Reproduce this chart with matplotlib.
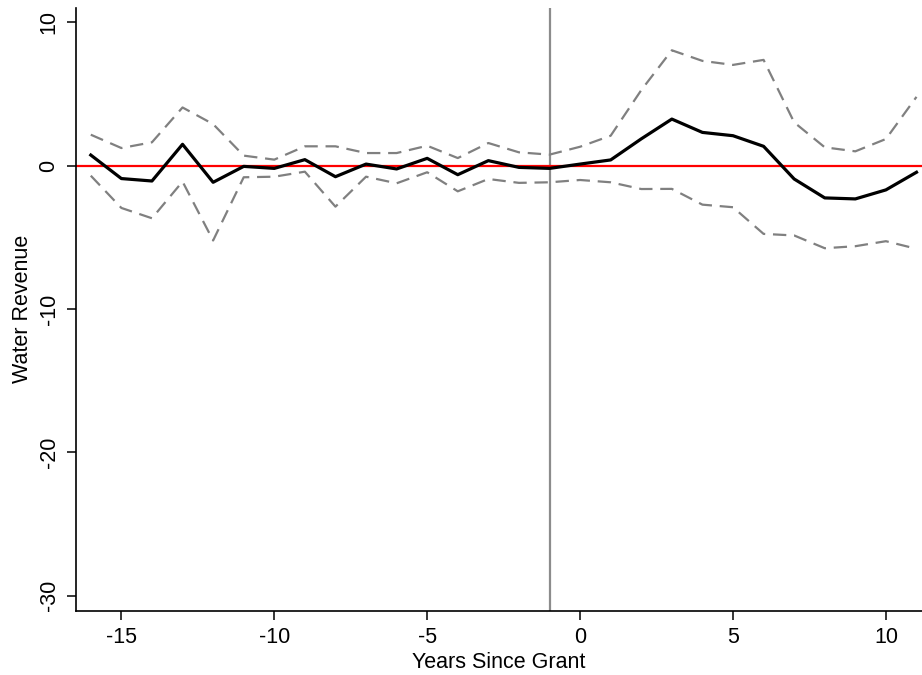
import numpy as np
from matplotlib import pyplot as plt

plt.rcParams['font.family'] = ['Liberation Sans', 'DejaVu Sans']
plt.rcParams['axes.unicode_minus'] = False

# event time relative to grant
years = list(range(-16, 12))

# point estimates
coef = [0.74, -0.90, -1.07, 1.49, -1.16, -0.05, -0.19, 0.42, -0.77, 0.11,
        -0.23, 0.51, -0.63, 0.35, -0.12, -0.19, 0.11, 0.40, 1.87, 3.25,
        2.32, 2.09, 1.35, -0.93, -2.25, -2.32, -1.69, -0.46]

# upper and lower confidence bounds
upper = [2.16, 1.23, 1.63, 4.06, 2.90, 0.70, 0.42, 1.35, 1.35, 0.88,
         0.88, 1.39, 0.53, 1.58, 0.93, 0.77, 1.32, 2.09, 5.27, 8.05,
         7.31, 7.03, 7.38, 3.02, 1.28, 1.00, 1.86, 4.80]
lower = [-0.70, -2.95, -3.67, -1.11, -5.22, -0.81, -0.77, -0.42, -2.86, -0.77,
         -1.23, -0.46, -1.79, -0.93, -1.20, -1.16, -1.00, -1.16, -1.63, -1.62,
         -2.72, -2.90, -4.76, -4.87, -5.76, -5.62, -5.27, -5.80]

xticks = [-15, -10, -5, 0, 5, 10]
yticks = [-30, -20, -10, 0, 10]

fig = plt.figure(figsize=(9.22, 6.75), dpi=100)
ax = fig.add_axes([75.5/922, 64.3/675, 1 - 75.5/922, 602.7/675])

ax.axvline(-1, color='#8c8c8c', lw=1.6, zorder=1)
ax.axhline(0, color='#ff0000', lw=1.6, zorder=2)

ax.plot(years, upper, color='#808080', lw=1.6, ls=(0, (6, 3.5)), zorder=3)
ax.plot(years, lower, color='#808080', lw=1.6, ls=(0, (6, 3.5)), zorder=3)
ax.plot(years, coef, color='k', lw=2.3, zorder=4)

ax.set_xlim(-16.5, 11.18)
ax.set_ylim(-31.05, 11.0)
ax.set_xticks(xticks)
ax.set_yticks(yticks)
ax.set_yticklabels([str(t) for t in yticks], rotation=90, va='center')

ax.spines['top'].set_visible(False)
ax.spines['right'].set_visible(False)
for s in ['left', 'bottom']:
    ax.spines[s].set_linewidth(1.2)
ax.tick_params(direction='out', length=6.5, width=1.1, labelsize=15.5, pad=5)

ax.set_xlabel('Years Since Grant', fontsize=15.5, labelpad=3)
ax.set_ylabel('Water Revenue', fontsize=15.5, labelpad=4)

fig.savefig('out.png', dpi=100)
